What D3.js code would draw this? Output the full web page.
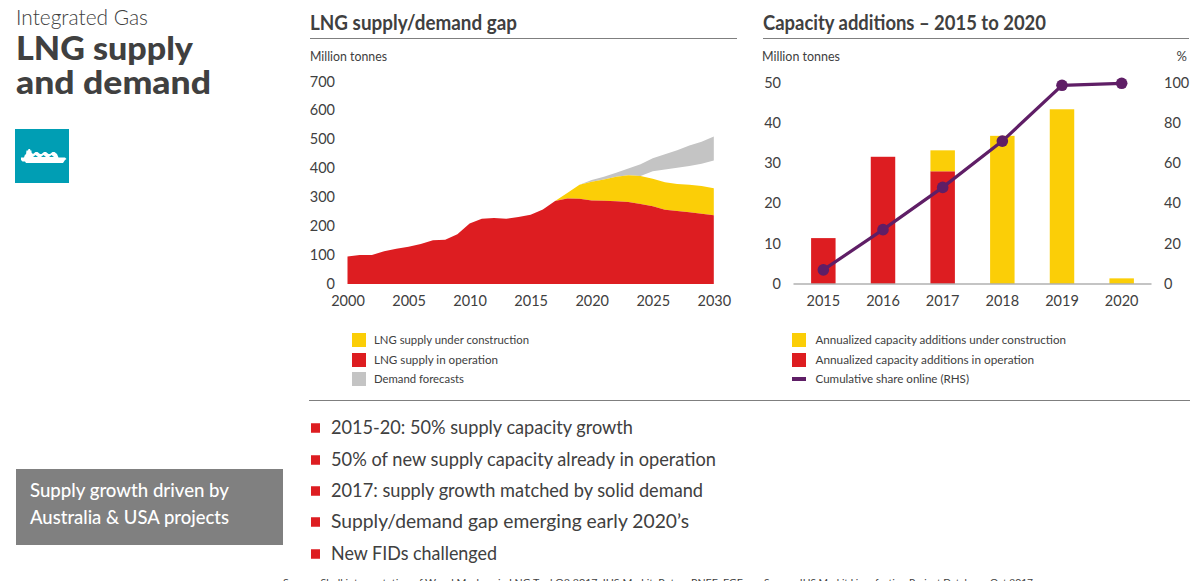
<!DOCTYPE html>
<html><head><meta charset="utf-8">
<script src="https://cdn.jsdelivr.net/npm/d3@7"></script>
<style>
html,body{margin:0;padding:0;background:#fff;overflow:hidden}
svg{display:block}
text{font-family:Lato,"Open Sans",sans-serif;fill:#404040}
</style></head><body>
<script>
const years = d3.range(2000, 2031);
const supplyOperation = [95,100,100,113,122,129,138,151,153,172,209,226,228,226,232,240,258,287,296,295,289,288,286,284,277,269,257,253,248,243,238];
const supplyTotal = [95,100,100,113,122,129,138,151,153,172,209,226,228,226,232,240,258,287,315,343,354,362,371,376,374,364,352,346,343,339,331];
const demandYears = [2019,2020,2021,2022,2023,2024,2025,2026,2027,2028,2029,2030];
const demandLow = [343,354,362,371,376,374,390,396,402,408,416,427];
const demandHigh = [343,360,371,385,400,414,435,449,463,479,492,510];
const leftTicksY = [0,100,200,300,400,500,600,700];
const leftTicksX = [2000,2005,2010,2015,2020,2025,2030];

const capYears = [2015,2016,2017,2018,2019,2020];
const capOperation = [11.4,31.6,28,0,0,0];
const capConstruction = [0,0,5.2,36.8,43.4,1.4];
const cumulativeShare = [7,27,48,71,98.7,99.7];
const rightTicksL = [0,10,20,30,40,50];
const rightTicksR = [0,20,40,60,80,100];

const legendLeft = ["LNG supply under construction","LNG supply in operation","Demand forecasts"];
const legendRight = ["Annualized capacity additions under construction","Annualized capacity additions in operation","Cumulative share online (RHS)"];
const bullets = ["2015-20: 50% supply capacity growth","50% of new supply capacity already in operation","2017: supply growth matched by solid demand","Supply/demand gap emerging early 2020\u2019s","New FIDs challenged"];

/* layout, kept apart from the values above */
const legendLeftWidths=[155,124,90];
const legendRightWidths=[250.5,218.5,153.5];
const bulletWidths=[302,385,372,358,166];
const legY=[340,360,379];
const bulY=[428,460,491,522,554];

const RED="#dd1d21",YEL="#fbce07",GRY="#c4c4c4",PUR="#5f1e66",TXT="#404040",RULE="#7f7f7f";
const svg=d3.select("body").append("svg").attr("width",1201).attr("height",581);

function label(x,y,s,size,opts={}){
  const t=svg.append("text").attr("x",x).attr("y",y).attr("font-size",size).text(s)
    .attr("text-anchor",opts.anchor||"start").attr("font-weight",opts.weight||300);
  if(opts.fill)t.style("fill",opts.fill);
  if(opts.len)t.attr("textLength",opts.len).attr("lengthAdjust","spacingAndGlyphs");
  return t;
}

/* header block */
label(16,25,"Integrated Gas",21,{weight:300,len:132});
const head=svg.append("text").attr("font-size",33).attr("font-weight",900);
head.append("tspan").attr("x",16).attr("y",60).attr("textLength",177).attr("lengthAdjust","spacingAndGlyphs").text("LNG supply");
head.append("tspan").attr("x",16).attr("y",94).attr("textLength",195).attr("lengthAdjust","spacingAndGlyphs").text("and demand");
svg.append("rect").attr("x",15).attr("y",129).attr("width",54).attr("height",54).attr("fill","#009eb4");
svg.append("path").attr("fill","#fff")
  .attr("d","M21 157.500h3l1-3h1l.5-4h1.500l.5-1.500h1.500l.5 1.500h1v2l1.500 1.500 2.500-2h2l2.500 2h1.500l2.500-2h2l2.500 2h1.500l2.500-2h2l2.500 2 1.500 3.500h6.500l1.500 1.500-1.500 1-2 3h-37l-1-1.500h-2.500l-1.500-1.500z");
[33,41,49].forEach(x=>svg.append("path").attr("fill","#009eb4").attr("d",`M${x} 157l2.500-2 2.500 2z`));

/* panel titles */
label(310,30,"LNG supply/demand gap",20,{weight:700,len:207});
label(763,30,"Capacity additions \u2013 2015 to 2020",20,{weight:700,len:283});
[[310,737],[763,1189]].forEach(([a,b])=>svg.append("line").attr("x1",a).attr("x2",b).attr("y1",38.5).attr("y2",38.5).attr("stroke",RULE));
label(310,61,"Million tonnes",13,{weight:400,len:77});
label(762,61,"Million tonnes",13,{weight:400,len:78});
label(1187,61,"%",13,{weight:400,anchor:"end"});

/* left chart */
const xL=d3.scaleLinear().domain([2000,2030]).range([347.5,713.8]);
const yL=d3.scaleLinear().domain([0,700]).range([284,81.7]);
const area=(x,lo,hi)=>d3.area().x(d=>xL(x[d])).y0(d=>yL(lo[d])).y1(d=>yL(hi[d]));
svg.append("path").attr("fill",GRY).attr("d",area(demandYears,demandLow,demandHigh)(d3.range(demandYears.length)));
svg.append("path").attr("fill",YEL).attr("d",area(years,supplyOperation,supplyTotal)(d3.range(years.length)));
svg.append("path").attr("fill",RED).attr("d",area(years,years.map(()=>0),supplyOperation)(d3.range(years.length)));

const axL=svg.append("g").attr("transform","translate(335,-0.3)").call(d3.axisLeft(yL).tickValues(leftTicksY).tickSize(0).tickPadding(0));
const axLB=svg.append("g").attr("transform","translate(0,284)").call(d3.axisBottom(xL).tickValues(leftTicksX).tickFormat(d3.format("d")).tickSize(0).tickPadding(12));

/* right chart */
const xR=d3.scaleBand().domain(capYears).range([793.5,1151.5]).paddingInner(0.59).paddingOuter(0.295);
const yR=d3.scaleLinear().domain([0,50]).range([284,82.7]);
const yR2=d3.scaleLinear().domain([0,100]).range([284,82.7]);
const gBars=svg.append("g");
gBars.selectAll(".op").data(capYears).join("rect").attr("x",d=>xR(d)).attr("width",xR.bandwidth())
  .attr("y",(d,i)=>yR(capOperation[i])).attr("height",(d,i)=>yR(0)-yR(capOperation[i])).attr("fill",RED);
gBars.selectAll(".con").data(capYears).join("rect").attr("x",d=>xR(d)).attr("width",xR.bandwidth())
  .attr("y",(d,i)=>yR(capOperation[i]+capConstruction[i])).attr("height",(d,i)=>yR(capOperation[i])-yR(capOperation[i]+capConstruction[i])).attr("fill",YEL);
svg.append("line").attr("x1",793.5).attr("x2",1151.5).attr("y1",284).attr("y2",284).attr("stroke","#b0b0b0").attr("stroke-width",1.5);
const cx=d=>xR(d)+xR.bandwidth()/2;
svg.append("path").attr("fill","none").attr("stroke",PUR).attr("stroke-width",3.2)
  .attr("d",d3.line().x(d=>cx(d)).y((d,i)=>yR2(cumulativeShare[i]))(capYears));
svg.selectAll(".pt").data(capYears).join("circle").attr("cx",cx).attr("cy",(d,i)=>yR2(cumulativeShare[i])).attr("r",5.8).attr("fill",PUR);

const axR1=svg.append("g").attr("transform","translate(781,-0.3)").call(d3.axisLeft(yR).tickValues(rightTicksL).tickSize(0).tickPadding(0));
const axR2=svg.append("g").attr("transform","translate(1164,-0.3)").call(d3.axisRight(yR2).tickValues(rightTicksR).tickSize(0).tickPadding(0));
const axRB=svg.append("g").attr("transform","translate(0,284)").call(d3.axisBottom(xR).tickFormat(d3.format("d")).tickSize(0).tickPadding(12));
[axL,axLB,axR1,axR2,axRB].forEach(g=>{
  g.select(".domain").remove();
  g.selectAll("text").attr("font-size",14.5).attr("font-family","Lato").attr("font-weight",400).style("fill",TXT);
});

/* legends */
const legLeftCol=[YEL,RED,GRY];
legendLeft.forEach((s,i)=>{
  svg.append("rect").attr("x",352).attr("y",legY[i]-7).attr("width",14).attr("height",14).attr("fill",legLeftCol[i]);
  label(374,legY[i]+4,s,12,{weight:400,len:legendLeftWidths[i]});
});
legendRight.forEach((s,i)=>{
  if(i<2) svg.append("rect").attr("x",792).attr("y",legY[i]-7).attr("width",14).attr("height",14).attr("fill",[YEL,RED][i]);
  else svg.append("rect").attr("x",792).attr("y",legY[i]-2).attr("width",14).attr("height",4).attr("fill",PUR);
  label(815.500,legY[i]+4,s,12,{weight:400,len:legendRightWidths[i]});
});
svg.append("line").attr("x1",309).attr("x2",1190).attr("y1",400.5).attr("y2",400.5).attr("stroke",RULE);

/* call-out */
svg.append("rect").attr("x",16).attr("y",469).attr("width",267).attr("height",76).attr("fill","#808080");
label(30,497,"Supply growth driven by",19,{weight:500,fill:"#fff",len:199});
label(30,524,"Australia & USA projects",19,{weight:500,fill:"#fff",len:199});

/* bullets */
bullets.forEach((s,i)=>{
  svg.append("rect").attr("x",311).attr("y",bulY[i]-4.75).attr("width",9).attr("height",9.5).attr("fill",RED);
  label(331,bulY[i]+6,s,20,{weight:400,len:bulletWidths[i]});
});

/* source line, cut by the page edge as in the original */
label(283,586,"Source: Shell interpretation of Wood Mackenzie LNG Tool Q3 2017, IHS Markit, Poten, PNEE, FGE",10,{weight:400,len:460});
label(764,586,"Source: IHS Markit Liquefaction Project Database, Oct 2017",10,{weight:400,len:269});
</script>
</body></html>
